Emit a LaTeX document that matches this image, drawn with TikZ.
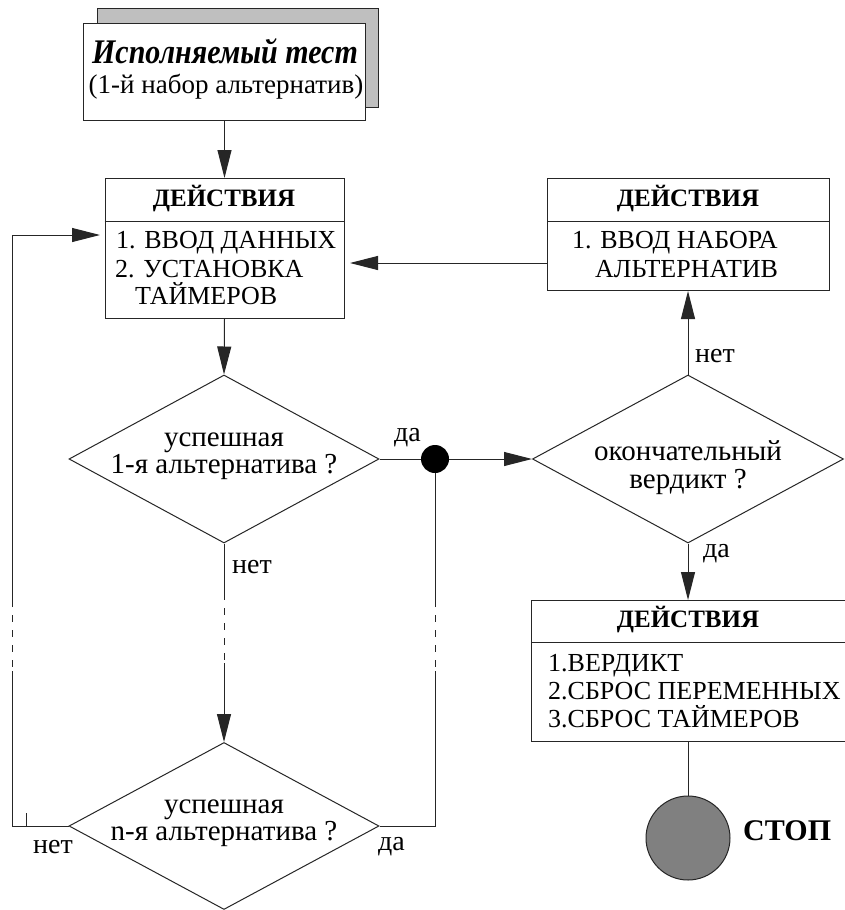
\documentclass[tikz,border=0pt]{standalone}
\usepackage{fontspec}
\setmainfont{Liberation Serif}
\usetikzlibrary{shapes.geometric,arrows.meta,calc}
\begin{document}
\begin{tikzpicture}[x=1pt,y=-1pt,
  ln/.style={line width=1pt, draw=black!85},
  arr/.style={ln,-{Triangle[length=28pt,width=14pt]}},
  dsh/.style={ln,dash pattern=on 7pt off 8pt,dash phase=7pt},
  box/.style={ln, rectangle, fill=white, inner sep=0pt, anchor=north west},
  dia/.style={ln, diamond, inner sep=0pt, fill=white},
  txt/.style={font=\fontsize{26}{28}\selectfont, inner sep=0pt, anchor=base west},
  ttl/.style={font=\bfseries\fontsize{25}{28}\selectfont, inner sep=0pt, anchor=base},
  dtx/.style={font=\fontsize{29}{30}\selectfont, inner sep=0pt, anchor=base},
  lbl/.style={font=\fontsize{28}{30}\selectfont, inner sep=0pt, anchor=base west},
]
\clip (0,0) rectangle (845,910);
\fill[white] (0,0) rectangle (845,910);

% start block
\node[box, fill=black!25, minimum width=281, minimum height=99] (shadow) at (97,8) {};
\node[box, minimum width=282, minimum height=97] (top) at (83,23) {};
\node[font=\bfseries\itshape\fontsize{30}{32}\selectfont, inner sep=0pt, anchor=base] (t1) at (225,63) {\scalebox{1}[1.15]{Исполняемый тест}};
\node[font=\fontsize{27}{28}\selectfont, inner sep=0pt, anchor=base] (t2) at (226,93) {(1-й набор альтернатив)};

% action box 1
\node[box, minimum width=239, minimum height=140] (b1) at (104.5,178) {};
\draw[ln] (b1.west |- 0,221) -- (b1.east |- 0,221);
\node[ttl] (b1t) at (224,206) {ДЕЙСТВИЯ};
\node[txt] (b1a) at (116,248) {1. ВВОД ДАННЫХ};
\node[txt] (b1b) at (115,277) {2. УСТАНОВКА};
\node[txt] (b1c) at (135,304) {ТАЙМЕРОВ};

% action box 2
\node[box, minimum width=282, minimum height=112] (b2) at (547,178) {};
\draw[ln] (b2.west |- 0,221) -- (b2.east |- 0,221);
\node[ttl] (b2t) at (688,206) {ДЕЙСТВИЯ};
\node[txt] (b2a) at (572,248) {1. ВВОД НАБОРА};
\node[txt] (b2b) at (595,277) {АЛЬТЕРНАТИВ};

% action box 3
\node[box, minimum width=360, minimum height=141] (b3) at (531,600) {};
\draw[ln] (b3.west |- 0,642) -- (b3.east |- 0,642);
\node[ttl] (b3t) at (688,627) {ДЕЙСТВИЯ};
\node[txt] (b3a) at (548,671) {1.ВЕРДИКТ};
\node[txt] (b3b) at (548,699) {2.СБРОС ПЕРЕМЕННЫХ};
\node[txt] (b3c) at (548,727) {3.СБРОС ТАЙМЕРОВ};

% diamonds
\node[dia, minimum width=310, minimum height=168] (d1) at (224,459) {};
\node[dtx] (d1a) at (224,446) {успешная};
\node[dtx] (d1b) at (224,473) {1-я альтернатива ?};

\node[dia, minimum width=311, minimum height=168] (d2) at (688,459) {};
\node[dtx] (d2a) at (688,460) {окончательный};
\node[dtx] (d2b) at (688,488) {вердикт ?};

\node[dia, minimum width=310, minimum height=167] (d3) at (224,826) {};
\node[dtx] (d3a) at (224,813) {успешная};
\node[dtx] (d3b) at (224,840) {n-я альтернатива ?};

% junction dot and stop
\node[circle, fill=black, minimum size=28, inner sep=0pt] (dot) at (435,459) {};
\node[circle, ln, fill=black!50, minimum size=84, inner sep=0pt] (stop) at (688,838) {};
\node[font=\bfseries\fontsize{30}{32}\selectfont, inner sep=0pt, anchor=base west] (stopt) at (743,840) {СТОП};

% coordinates
\coordinate (lc) at (12,826);
\coordinate (la) at (12,671);
\coordinate (lb) at (12,607);
\coordinate (lt) at (12,235);
\coordinate (lin) at (100,235);
\coordinate (tk1) at (26,813);
\coordinate (tk2) at (26,826);
\coordinate (ma) at (224,600);
\coordinate (mb) at (224,663);
\coordinate (rc) at (435,826);
\coordinate (ra) at (435,671);
\coordinate (rb) at (435,607);
\coordinate (b2out) at (547,263);
\coordinate (b1in) at (350,263);

% connectors
\draw[arr] (top.south) -- (b1.north);
\draw[arr] (b1.south) -- (d1.north);
\draw[ln] (d1.south) -- (ma);
\draw[dsh] (ma) -- (mb);
\draw[arr] (mb) -- (d3.north);

\draw[ln] (d3.west) -- (lc) -- (la);
\draw[dsh] (lb) -- (la);
\draw[arr] (lb) -- (lt) -- (lin);
\draw[ln] (tk1) -- (tk2);

\draw[ln] (d3.east) -- (rc) -- (ra);
\draw[dsh] (rb) -- (ra);
\draw[ln] (rb) -- (dot.south);

\draw[ln] (d1.east) -- (dot.west);
\draw[arr] (dot.east) -- (d2.west);
\draw[arr] (d2.north) -- (d2.north |- b2.south);
\draw[arr] (b2out) -- (b1in);
\draw[arr] (d2.south) -- (d2.south |- b3.north);
\draw[ln] (stop.north |- b3.south) -- (stop.north);

% labels
\node[lbl, anchor=base east] (l1) at (421,441) {да};
\node[lbl] (l2) at (232,573) {нет};
\node[lbl] (l3) at (695,362) {нет};
\node[lbl] (l4) at (703,557) {да};
\node[lbl] (l5) at (33,853) {нет};
\node[lbl] (l6) at (378,850) {да};
\end{tikzpicture}
\end{document}
